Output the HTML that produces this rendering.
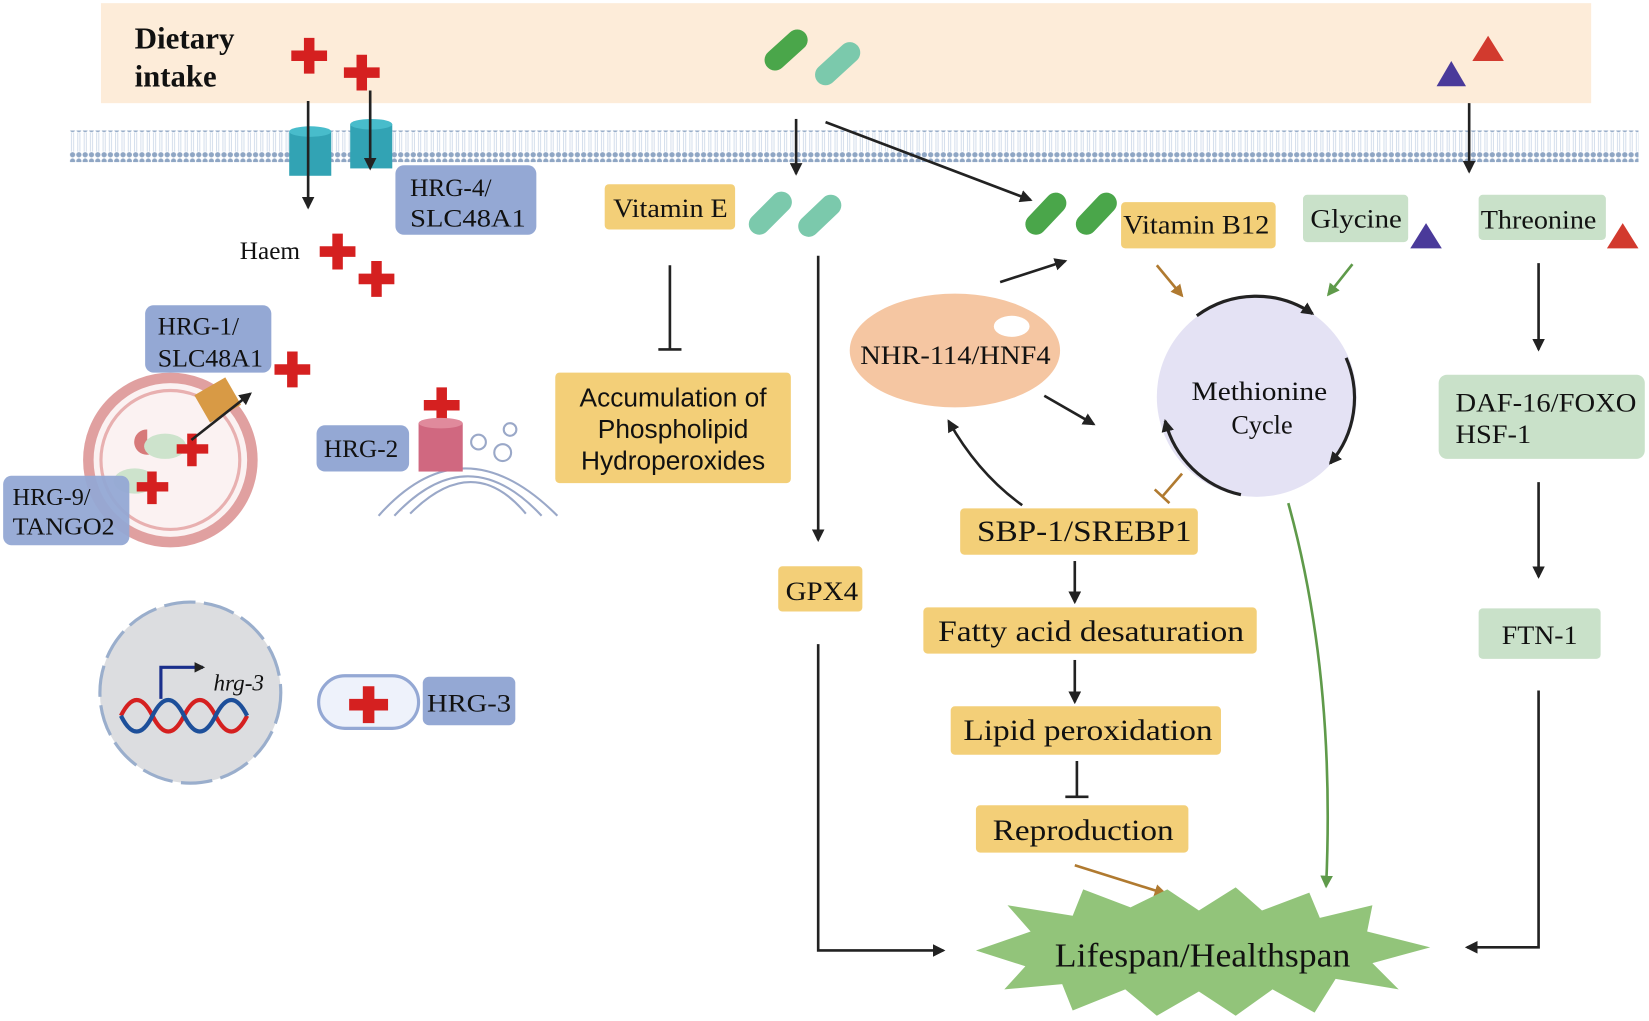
<!DOCTYPE html>
<html><head><meta charset="utf-8"><style>
html,body{margin:0;padding:0;background:#fff;}
svg{display:block}
text{font-family:"Liberation Serif",serif;fill:#111}
</style></head><body>
<svg width="1649" height="1021" viewBox="0 0 1568 970" preserveAspectRatio="none" xmlns="http://www.w3.org/2000/svg">
<defs>
<marker id="ak" markerWidth="10" markerHeight="10" refX="8" refY="5" orient="auto" markerUnits="userSpaceOnUse"><path d="M0,0 L10,5 L0,10 z" fill="#222"/></marker>
<marker id="ab" markerWidth="12" markerHeight="12" refX="10" refY="6" orient="auto" markerUnits="userSpaceOnUse"><path d="M0,0 L12,6 L0,12 z" fill="#222"/></marker>
<marker id="ao" markerWidth="12" markerHeight="12" refX="10" refY="6" orient="auto" markerUnits="userSpaceOnUse"><path d="M0,0 L12,6 L0,12 z" fill="#b07a30"/></marker>
<marker id="ag" markerWidth="12" markerHeight="12" refX="10" refY="6" orient="auto" markerUnits="userSpaceOnUse"><path d="M0,0 L12,6 L0,12 z" fill="#5f9a4a"/></marker>
<pattern id="mem" width="6" height="30" patternUnits="userSpaceOnUse"><circle cx="3" cy="3" r="2.5" fill="#8fa6c4"/><circle cx="3" cy="27" r="2.5" fill="#8fa6c4"/><path d="M2,6 L2,24 M4,6 L4,24" stroke="#c4d2e4" stroke-width="0.7"/></pattern>
</defs>
<rect x="96" y="3" width="1417" height="95" fill="#fdecd9"/>
<text x="128" y="46" font-size="29" font-weight="bold" textLength="95" lengthAdjust="spacingAndGlyphs">Dietary</text>
<text x="128" y="82" font-size="29" font-weight="bold" textLength="78" lengthAdjust="spacingAndGlyphs">intake</text>
<rect x="66" y="124" width="1492" height="30" fill="url(#mem)"/>
<g fill="#d52020">
<path d="M289,36h10v12h12v10h-12v12h-10v-12h-12v-10h12z"/>
<path d="M339,52h10v12h12v10h-12v12h-10v-12h-12v-10h12z"/>
<path d="M316,222h10v12h12v10h-12v12h-10v-12h-12v-10h12z"/>
<path d="M353,248h10v12h12v10h-12v12h-10v-12h-12v-10h12z"/>
<path d="M273,334h10v12h12v10h-12v12h-10v-12h-12v-10h12z"/>
<path d="M415,368h10v12h12v10h-12v12h-10v-12h-12v-10h12z"/>
</g>
<rect x="275" y="125" width="40" height="42" fill="#32a3b4"/><ellipse cx="295" cy="125" rx="20" ry="5" fill="#48bccb"/>
<rect x="333" y="118" width="40" height="42" fill="#32a3b4"/><ellipse cx="353" cy="118" rx="20" ry="5" fill="#48bccb"/>
<line x1="293" y1="96" x2="293" y2="197" stroke="#222" stroke-width="2.5" marker-end="url(#ab)"/>
<line x1="352" y1="86" x2="352" y2="160" stroke="#222" stroke-width="2.5" marker-end="url(#ab)"/>
<rect x="376" y="157" width="134" height="66" rx="8" fill="#94a8d4"/>
<text x="390" y="186" font-size="24">HRG-4/</text><text x="390" y="215" font-size="24" textLength="110" lengthAdjust="spacingAndGlyphs">SLC48A1</text>
<text x="228" y="246" font-size="24">Haem</text>
<circle cx="162" cy="437" r="78" fill="#fbf2f2" stroke="#e0a0a0" stroke-width="10"/>
<circle cx="162" cy="437" r="66" fill="none" stroke="#e8b0b0" stroke-width="3"/>
<path d="M140,408 a12,12 0 1,0 10,18 l-10,-6z" fill="#d77a7a"/>
<ellipse cx="157" cy="424" rx="20" ry="12" fill="#cde3cc"/>
<ellipse cx="128" cy="457" rx="20" ry="12" fill="#cde3cc"/>
<path d="M178,412h9v10h11v9h-11v12h-9v-12h-10v-9h10z M140,448h9v10h11v9h-11v12h-9v-12h-10v-9h10z" fill="#d52020"/>
<rect x="190" y="365" width="34" height="30" transform="rotate(-30 207 380)" fill="#d89a45"/>
<line x1="182" y1="418" x2="238" y2="374" stroke="#222" stroke-width="2.5" marker-end="url(#ab)"/>
<rect x="138" y="290" width="120" height="64" rx="8" fill="#94a8d4"/>
<text x="150" y="318" font-size="24">HRG-1/</text><text x="150" y="348" font-size="24" textLength="100" lengthAdjust="spacingAndGlyphs">SLC48A1</text>
<rect x="3" y="452" width="120" height="66" rx="8" fill="#94a8d4" opacity="0.95"/>
<text x="12" y="480" font-size="23">HRG-9/</text><text x="12" y="508" font-size="23" textLength="97" lengthAdjust="spacingAndGlyphs">TANGO2</text>
<g fill="none" stroke="#9aa8c8" stroke-width="2">
<path d="M360,490 q80,-90 170,0"/><path d="M375,490 q70,-75 140,0"/><path d="M390,488 q60,-60 110,0"/>
<circle cx="485" cy="408" r="6"/><circle cx="478" cy="430" r="8"/><circle cx="370" cy="440" r="6"/><circle cx="455" cy="420" r="7"/>
</g>
<rect x="398" y="402" width="42" height="46" fill="#d06880"/><ellipse cx="419" cy="402" rx="21" ry="5" fill="#e08a9c"/>
<rect x="301" y="404" width="88" height="44" rx="8" fill="#94a8d4"/><text x="308" y="434" font-size="24">HRG-2</text>
<circle cx="181" cy="658" r="86" fill="#dcdde0" stroke="#9aaecc" stroke-width="3" stroke-dasharray="30 8"/>
<path d="M153,664 v-30 h40" fill="none" stroke="#1a2f8c" stroke-width="3" marker-end="url(#ak)"/>
<text x="203" y="656" font-size="22" font-style="italic">hrg-3</text>
<path d="M115,680 q15,-30 30,0 t30,0 t30,0 t30,0" fill="none" stroke="#d52020" stroke-width="4"/>
<path d="M115,680 q15,30 30,0 t30,0 t30,0 t30,0" fill="none" stroke="#1d4f9a" stroke-width="4"/>
<rect x="303" y="642" width="95" height="50" rx="25" fill="#eef2fb" stroke="#94a8d4" stroke-width="3"/>
<path d="M345,652h11v12h13v11h-13v12h-11v-12h-13v-11h13z" fill="#d52020"/>
<rect x="402" y="643" width="88" height="46" rx="6" fill="#94a8d4"/><text x="406" y="676" font-size="24" textLength="80" lengthAdjust="spacingAndGlyphs">HRG-3</text>
<g stroke-linecap="round" stroke-width="20">
<line x1="737" y1="57" x2="758" y2="38" stroke="#4aa64a"/>
<line x1="785" y1="71" x2="808" y2="50" stroke="#7bc9ac"/>
<line x1="722" y1="213" x2="743" y2="192" stroke="#7bc9ac"/>
<line x1="769" y1="215" x2="790" y2="195" stroke="#7bc9ac"/>
<line x1="985" y1="213" x2="1004" y2="193" stroke="#4aa64a"/>
<line x1="1033" y1="213" x2="1052" y2="193" stroke="#4aa64a"/>
</g>
<path d="M1366,82 l14,-24 l14,24z" fill="#4a3a9a"/><path d="M1400,58 l15,-24 l15,24z" fill="#d23a2e"/>
<path d="M1341,236 l15,-24 l15,24z" fill="#4a3a9a"/><path d="M1528,236 l15,-24 l15,24z" fill="#d23a2e"/>
<line x1="757" y1="113" x2="757" y2="165" stroke="#222" stroke-width="2.5" marker-end="url(#ab)"/>
<line x1="785" y1="116" x2="980" y2="190" stroke="#222" stroke-width="2.5" marker-end="url(#ab)"/>
<line x1="1397" y1="98" x2="1397" y2="163" stroke="#222" stroke-width="2.5" marker-end="url(#ab)"/>
<g fill="#f3cf78">
<rect x="575" y="175" width="124" height="43" rx="4"/>
<rect x="528" y="354" width="224" height="105" rx="4"/>
<rect x="740" y="538" width="80" height="43" rx="4"/>
<rect x="1066" y="192" width="147" height="44" rx="4"/>
<rect x="913" y="483" width="226" height="44" rx="4"/>
<rect x="878" y="577" width="317" height="44" rx="4"/>
<rect x="904" y="671" width="257" height="46" rx="4"/>
<rect x="928" y="765" width="202" height="45" rx="4"/>
</g>
<text x="583" y="206" font-size="25" textLength="109" lengthAdjust="spacingAndGlyphs">Vitamin E</text>
<g font-size="25" text-anchor="middle"><text x="640" y="386" style="font-family:'Liberation Sans',sans-serif">Accumulation of</text><text x="640" y="416" style="font-family:'Liberation Sans',sans-serif">Phospholipid</text><text x="640" y="446" style="font-family:'Liberation Sans',sans-serif">Hydroperoxides</text></g>
<text x="747" y="570" font-size="25" textLength="69" lengthAdjust="spacingAndGlyphs">GPX4</text>
<text x="1068" y="222" font-size="25" textLength="139" lengthAdjust="spacingAndGlyphs">Vitamin B12</text>
<text x="929" y="514" font-size="28" textLength="204" lengthAdjust="spacingAndGlyphs">SBP-1/SREBP1</text>
<text x="892" y="609" font-size="28" textLength="291" lengthAdjust="spacingAndGlyphs">Fatty acid desaturation</text>
<text x="916" y="703" font-size="28" textLength="237" lengthAdjust="spacingAndGlyphs">Lipid peroxidation</text>
<text x="944" y="798" font-size="28" textLength="172" lengthAdjust="spacingAndGlyphs">Reproduction</text>
<g fill="#c9e1c9">
<rect x="1239" y="185" width="100" height="45" rx="4"/>
<rect x="1406" y="185" width="121" height="43" rx="4"/>
<rect x="1368" y="356" width="196" height="80" rx="8"/>
<rect x="1406" y="578" width="116" height="48" rx="4"/>
</g>
<text x="1246" y="216" font-size="25" textLength="87" lengthAdjust="spacingAndGlyphs">Glycine</text>
<text x="1408" y="217" font-size="25" textLength="110" lengthAdjust="spacingAndGlyphs">Threonine</text>
<text x="1384" y="391" font-size="25" textLength="172" lengthAdjust="spacingAndGlyphs">DAF-16/FOXO</text><text x="1384" y="421" font-size="25" textLength="72" lengthAdjust="spacingAndGlyphs">HSF-1</text>
<text x="1428" y="612" font-size="25" textLength="72" lengthAdjust="spacingAndGlyphs">FTN-1</text>
<ellipse cx="908" cy="333" rx="100" ry="54" fill="#f5c6a2"/>
<ellipse cx="962" cy="310" rx="17" ry="10" fill="#fff"/>
<text x="818" y="346" font-size="25" textLength="181" lengthAdjust="spacingAndGlyphs">NHR-114/HNF4</text>
<circle cx="1195" cy="377" r="95" fill="#e4e2f4"/>
<path d="M1138,300 a95,95 0 0,1 110,-2" fill="none" stroke="#222" stroke-width="3" marker-end="url(#ab)"/>
<path d="M1280,340 a95,95 0 0,1 -15,100" fill="none" stroke="#222" stroke-width="3" marker-end="url(#ab)"/>
<path d="M1180,470 a95,95 0 0,1 -72,-70" fill="none" stroke="#222" stroke-width="3" marker-end="url(#ab)"/>
<text x="1133" y="380" font-size="25" textLength="129" lengthAdjust="spacingAndGlyphs">Methionine</text>
<text x="1200" y="412" font-size="25" text-anchor="middle">Cycle</text>
<line x1="637" y1="252" x2="637" y2="332" stroke="#222" stroke-width="2.5"/><line x1="626" y1="332" x2="648" y2="332" stroke="#222" stroke-width="2.5"/>
<line x1="778" y1="243" x2="778" y2="513" stroke="#222" stroke-width="2.5" marker-end="url(#ab)"/>
<polyline points="778,612 778,903 897,903" fill="none" stroke="#222" stroke-width="2.5" marker-end="url(#ab)"/>
<line x1="951" y1="268" x2="1013" y2="248" stroke="#222" stroke-width="2.5" marker-end="url(#ab)"/>
<line x1="993" y1="376" x2="1040" y2="403" stroke="#222" stroke-width="2.5" marker-end="url(#ab)"/>
<path d="M972,480 Q930,450 902,400" fill="none" stroke="#222" stroke-width="2.5" marker-end="url(#ab)"/>
<line x1="1100" y1="252" x2="1124" y2="281" stroke="#b07a30" stroke-width="2.5" marker-end="url(#ao)"/>
<line x1="1286" y1="251" x2="1263" y2="280" stroke="#5f9a4a" stroke-width="2.5" marker-end="url(#ag)"/>
<line x1="1124" y1="450" x2="1105" y2="472" stroke="#b07a30" stroke-width="2.5"/><line x1="1098" y1="465" x2="1112" y2="478" stroke="#b07a30" stroke-width="2.5"/>
<line x1="1022" y1="533" x2="1022" y2="572" stroke="#222" stroke-width="2.5" marker-end="url(#ab)"/>
<line x1="1022" y1="627" x2="1022" y2="667" stroke="#222" stroke-width="2.5" marker-end="url(#ab)"/>
<line x1="1024" y1="723" x2="1024" y2="757" stroke="#222" stroke-width="2.5"/><line x1="1013" y1="757" x2="1035" y2="757" stroke="#222" stroke-width="2.5"/>
<line x1="1022" y1="822" x2="1108" y2="849" stroke="#b07a30" stroke-width="2.5" marker-end="url(#ao)"/>
<path d="M1225,478 Q1270,640 1261,842" fill="none" stroke="#5f9a4a" stroke-width="2.5" marker-end="url(#ag)"/>
<line x1="1463" y1="250" x2="1463" y2="332" stroke="#222" stroke-width="2.5" marker-end="url(#ab)"/>
<line x1="1463" y1="458" x2="1463" y2="548" stroke="#222" stroke-width="2.5" marker-end="url(#ab)"/>
<polyline points="1463,656 1463,900 1395,900" fill="none" stroke="#222" stroke-width="2.5" marker-end="url(#ab)"/>
<polygon fill="#92c47a" points="928,903 980,885 958,860 1020,870 1030,845 1075,862 1110,845 1140,865 1175,843 1200,865 1245,848 1255,872 1305,860 1300,885 1360,900 1305,915 1330,940 1270,930 1250,962 1210,940 1175,965 1140,942 1100,965 1070,940 1020,960 1010,935 955,940 975,918"/>
<text x="1003" y="918" font-size="32" textLength="281" lengthAdjust="spacingAndGlyphs">Lifespan/Healthspan</text>
</svg>
</body></html>
